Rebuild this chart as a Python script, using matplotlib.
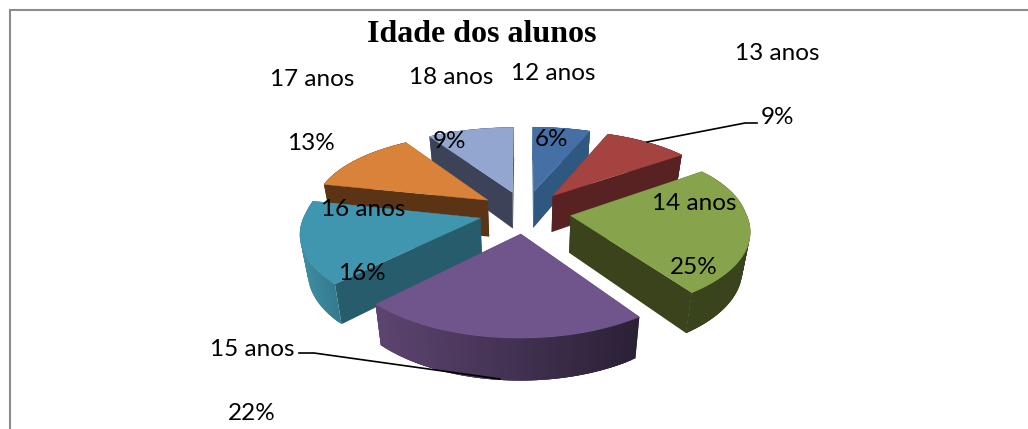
import numpy as np
import matplotlib
matplotlib.use("Agg")
import matplotlib.pyplot as plt
from matplotlib.patches import Polygon
from matplotlib.colors import to_rgb

categories = ["12 anos", "13 anos", "14 anos", "15 anos", "16 anos", "17 anos", "18 anos"]
values = [6, 9, 25.4, 22, 16, 12.6, 9]
title = "Idade dos alunos"

top_colors = ["#4470a5", "#a54341", "#87a34b", "#70558c", "#3f96ae", "#d8823a", "#92a6cf"]
side_colors = ["#2f5880", "#582222", "#3a431c", "#3a2d4a", "#265c6b", "#5a3415", "#3c4358"]
rim_left = ["#2f5880", "#582222", "#39431c", "#5c4570", "#3f8da3", "#5a3415", "#3c4358"]
rim_right = ["#2f5880", "#582222", "#39431c", "#2b2036", "#357a8e", "#5a3415", "#3c4358"]
draw_order = [0, 6, 1, 5, 4, 2, 3]

label_pos = [(553, 74), (777, 54), (694, 203), (252, 350), (363, 209), (312, 80), (451, 78)]
pct_pos = [(552, 140), (777, 118), (694, 267), (252, 414), (362, 274), (311, 144), (450, 142)]

CX, CY, R, EXPL, A, K, K_BACK_X, H, TAPER = 525.0, 212.0, 175.0, 46.0, 0.46, 0.00088, 0.0006, 37.0, 0.035


def project(x, y, z):
    """Perspective projection of pie-plane point; z=0 top face, z=1 bottom face."""
    s = 1.0 / (1.0 + K * y)
    sx = 1.0 / (1.0 + (K_BACK_X if y > 0 else K) * y)
    t = 1.0 - TAPER * z
    return CX + x * sx * t, CY - A * y * s * t + z * H * s ** 1.1


fig = plt.figure(figsize=(10.28, 4.29), dpi=100)
ax = fig.add_axes([0, 0, 1, 1])
ax.set_xlim(0, 1028)
ax.set_ylim(429, 0)
ax.axis("off")

ax.plot([10, 10, 1028], [429, 10, 10], color="#8c8c8c", lw=1.5, solid_joinstyle="miter")

edges = np.cumsum([0] + values) / sum(values) * 2 * np.pi


def wedge_pts(i, th):
    mid = (edges[i] + edges[i + 1]) / 2
    ox, oy = EXPL * np.sin(mid), EXPL * np.cos(mid)
    return ox + R * np.sin(th), oy + R * np.cos(th), ox, oy


for order, i in enumerate(draw_order):
    z = 2 + order * 0.1
    th = np.linspace(edges[i], edges[i + 1], 60)
    x, y, ox, oy = wedge_pts(i, th)
    # radial faces
    for k in (0, -1):
        quad = [project(ox, oy, 0), project(x[k], y[k], 0), project(x[k], y[k], 1), project(ox, oy, 1)]
        ax.add_patch(Polygon(quad, closed=True, fc=side_colors[i], ec="none", zorder=z))
    # rim strips, shaded left to right on screen; each overlaps the next to hide seams
    c0, c1 = np.array(to_rgb(rim_left[i])), np.array(to_rgb(rim_right[i]))
    sx = np.array([project(a, b, 0)[0] for a, b in zip(x, y)])
    span = max(sx.max() - sx.min(), 1)
    for j in range(len(th) - 1):
        j2 = min(j + 3, len(th) - 1)
        f = (0.5 * (sx[j] + sx[j + 1]) - sx.min()) / span
        col = c0 + (c1 - c0) * f
        quad = [project(x[j], y[j], 0), project(x[j2], y[j2], 0),
                project(x[j2], y[j2], 1), project(x[j], y[j], 1)]
        ax.add_patch(Polygon(quad, closed=True, fc=col, ec="none", zorder=z))
    # top face
    pts = [project(ox, oy, 0)] + [project(a, b, 0) for a, b in zip(x, y)]
    ax.add_patch(Polygon(pts, closed=True, fc=top_colors[i], ec=top_colors[i], lw=0.3, zorder=z))

# leader lines
ax.plot([647, 745, 757], [142, 123, 123], color="black", lw=1.2, zorder=4)
ax.plot([299, 314, 500], [353, 353, 379], color="black", lw=1.2, zorder=4)

font = dict(family="Lato", fontsize=17.5, color="black", ha="center", va="center", zorder=5)
total = sum(values)
for name, v, lp, pp in zip(categories, values, label_pos, pct_pos):
    ax.text(lp[0], lp[1], name, **font)
    ax.text(pp[0], pp[1], f"{round(100 * v / total)}%", **font)

ax.text(482, 34, title, family="Liberation Serif", fontweight="bold", fontsize=23,
        ha="center", va="center", color="black", zorder=5)

fig.savefig("out.png", dpi=100, facecolor="white")
